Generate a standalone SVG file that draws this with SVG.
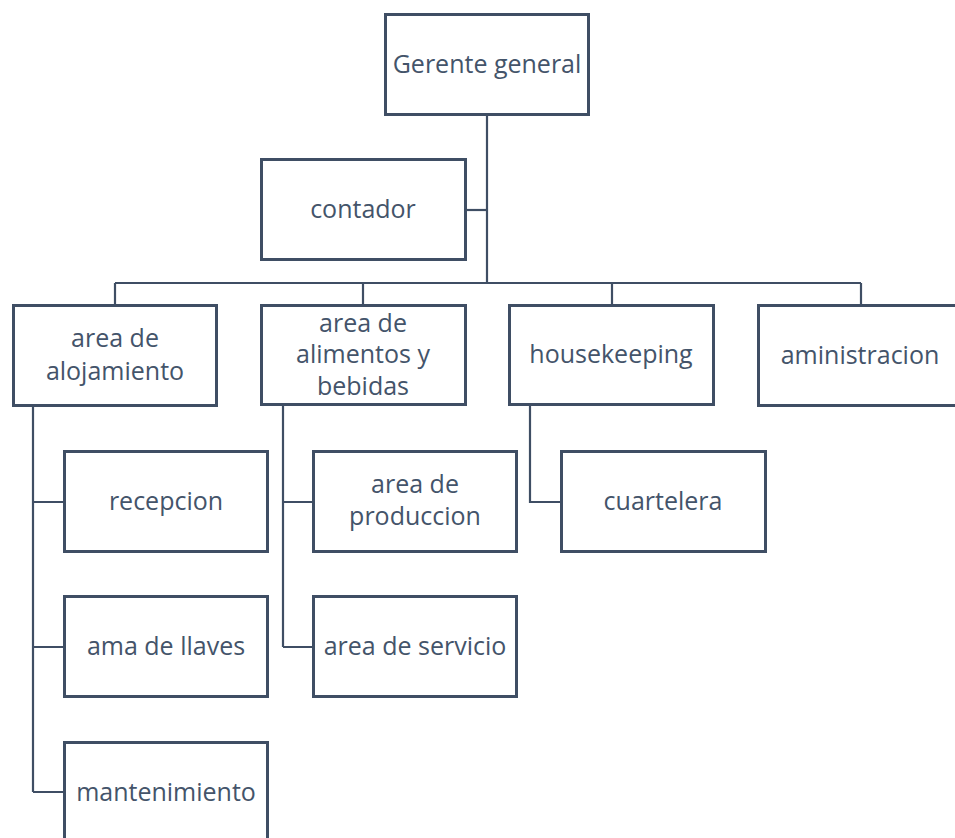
<svg xmlns="http://www.w3.org/2000/svg" width="955" height="838" viewBox="0 0 955 838">
  <style>
    .box { fill: #ffffff; stroke: #3f4e64; stroke-width: 3; }
    .lbl { font-family: "Open Sans", "Liberation Sans", sans-serif; font-size: 25px; fill: #44546a; text-anchor: middle; }
    .link { fill: none; stroke: #3f4e64; stroke-width: 2.2; }
  </style>
  <rect width="955" height="838" fill="#ffffff"/>

  <!-- connectors -->
  <g id="connectors">
    <path class="link" d="M487,116 V283"/>
    <path class="link" d="M467,210 H487"/>
    <path class="link" d="M115,283 H861"/>
    <path class="link" d="M115,283 V304 M363,283 V304 M612,283 V304 M861,283 V304"/>
    <path class="link" d="M33,407 V792 M33,502 H63 M33,647 H63 M33,792 H63"/>
    <path class="link" d="M283,406 V647 M283,502 H312 M283,647 H312"/>
    <path class="link" d="M530,406 V502 H560"/>
  </g>

  <!-- top -->
  <g id="gerente">
    <rect class="box" x="385.5" y="14.5" width="203" height="100"/>
    <text class="lbl" x="487" y="73">Gerente general</text>
  </g>
  <g id="contador">
    <rect class="box" x="261.5" y="159.5" width="204" height="100"/>
    <text class="lbl" x="363" y="218">contador</text>
  </g>

  <!-- level 2 -->
  <g id="alojamiento">
    <rect class="box" x="13.5" y="305.5" width="203" height="100"/>
    <text class="lbl" x="115" y="347">area de</text>
    <text class="lbl" x="115" y="380">alojamiento</text>
  </g>
  <g id="alimentos">
    <rect class="box" x="261.5" y="305.5" width="204" height="99"/>
    <text class="lbl" x="363" y="332">area de</text>
    <text class="lbl" x="363" y="363">alimentos y</text>
    <text class="lbl" x="363" y="395">bebidas</text>
  </g>
  <g id="housekeeping">
    <rect class="box" x="509.5" y="305.5" width="204" height="99"/>
    <text class="lbl" x="611" y="363">housekeeping</text>
  </g>
  <g id="aministracion">
    <rect class="box" x="758.5" y="305.5" width="204" height="100"/>
    <text class="lbl" x="860" y="364">aministracion</text>
  </g>

  <!-- alojamiento children -->
  <g id="recepcion">
    <rect class="box" x="64.5" y="451.5" width="203" height="100"/>
    <text class="lbl" x="166" y="510">recepcion</text>
  </g>
  <g id="ama-de-llaves">
    <rect class="box" x="64.5" y="596.5" width="203" height="100"/>
    <text class="lbl" x="166" y="655">ama de llaves</text>
  </g>
  <g id="mantenimiento">
    <rect class="box" x="64.5" y="742.5" width="203" height="100"/>
    <text class="lbl" x="166" y="801">mantenimiento</text>
  </g>

  <!-- alimentos children -->
  <g id="produccion">
    <rect class="box" x="313.5" y="451.5" width="203" height="100"/>
    <text class="lbl" x="415" y="493">area de</text>
    <text class="lbl" x="415" y="525">produccion</text>
  </g>
  <g id="servicio">
    <rect class="box" x="313.5" y="596.5" width="203" height="100"/>
    <text class="lbl" x="415" y="655">area de servicio</text>
  </g>

  <!-- housekeeping child -->
  <g id="cuartelera">
    <rect class="box" x="561.5" y="451.5" width="204" height="100"/>
    <text class="lbl" x="663" y="510">cuartelera</text>
  </g>
</svg>
